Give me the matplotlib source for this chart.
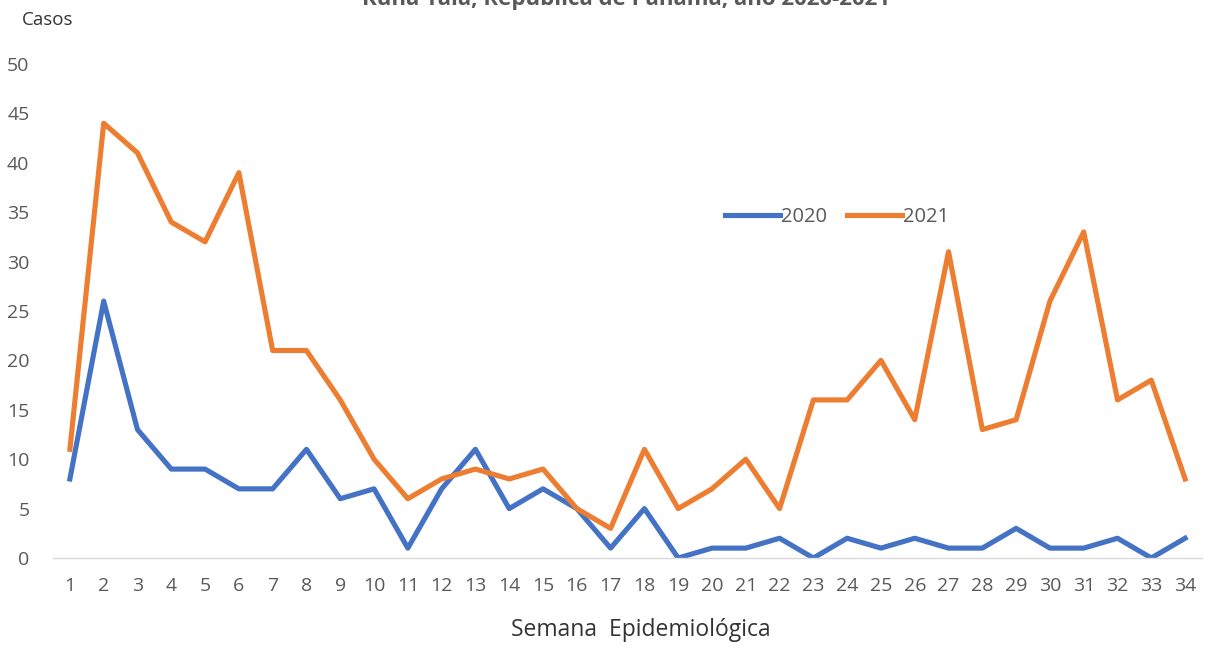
import matplotlib.pyplot as plt
import numpy as np

plt.rcParams['font.family'] = ['Open Sans', 'DejaVu Sans']

# semanas epidemiologicas
semanas = list(range(1, 35))
casos_2020 = [8, 26, 13, 9, 9, 7, 7, 11, 6, 7, 1, 7, 11, 5, 7, 5, 1, 5, 0, 1,
              1, 2, 0, 2, 1, 2, 1, 1, 3, 1, 1, 2, 0, 2]
casos_2021 = [11, 44, 41, 34, 32, 39, 21, 21, 16, 10, 6, 8, 9, 8, 9, 5, 3, 11, 5, 7,
              10, 5, 16, 16, 20, 14, 31, 13, 14, 26, 33, 16, 18, 8]
y_ticks = [0, 5, 10, 15, 20, 25, 30, 35, 40, 45, 50]

gris = '#595959'

fig = plt.figure(figsize=(12.09, 6.49), dpi=100)
ax = fig.add_axes([53/1209, 91/649, (1202-53)/1209, (585-91)/649])

ax.plot(semanas, casos_2020, color='#4472C4', lw=3.7, label='2020')
ax.plot(semanas, casos_2021, color='#ED7D31', lw=3.7, label='2021')

ax.set_xlim(0.5, 34.5)
ax.set_ylim(0, 50)
ax.set_xticks(semanas)
ax.set_yticks(y_ticks)
ax.tick_params(axis='both', length=0, colors=gris, labelsize=14)
ax.tick_params(axis='x', pad=14)
ax.tick_params(axis='y', pad=17)
for s in ['top', 'right', 'left']:
    ax.spines[s].set_visible(False)
ax.spines['bottom'].set_color('#d9d9d9')
ax.spines['bottom'].set_linewidth(1)

ax.legend(loc='center', bbox_to_anchor=(837/1209, 1-217/649), bbox_transform=fig.transFigure,
          frameon=False, ncol=2, fontsize=14.5, handlelength=2.75, handletextpad=0.05,
          columnspacing=0.95, labelcolor=gris)

fig.text(22/1209, 1-20/649, 'Casos', fontsize=13.5, color='#333333', va='center', ha='left')
fig.text(641/1209, 1-630/649, 'Semana  Epidemiológica', fontsize=16.5, color='#333333',
         va='center', ha='center')
fig.text(626/1209, 1-5/649, 'Kuna Yala, República de Panamá, año 2020-2021', fontsize=16,
         fontweight='bold', color=gris, va='baseline', ha='center')

fig.savefig('out.png', dpi=100)
